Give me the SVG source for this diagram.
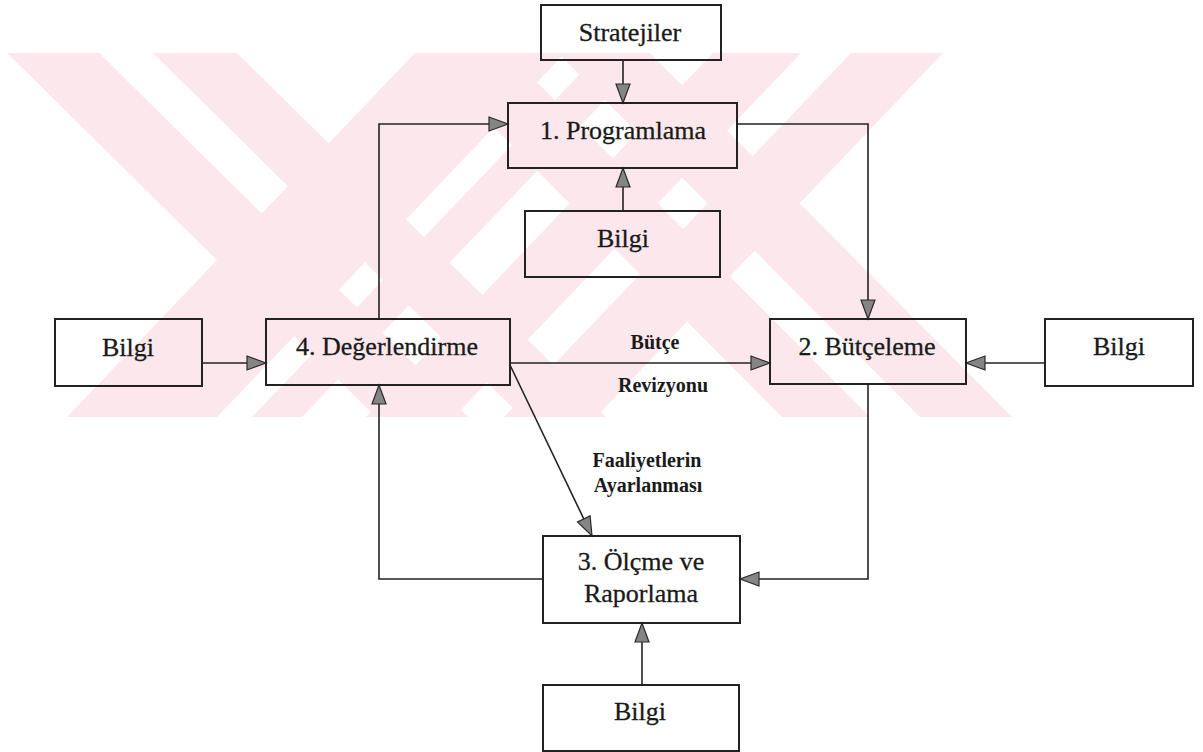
<svg xmlns="http://www.w3.org/2000/svg" width="1203" height="752" viewBox="0 0 1203 752">
<style>
.box{fill:none;stroke:#222;stroke-width:2}
.ln{fill:none;stroke:#222;stroke-width:1.6}
.t{font-family:"Liberation Serif","Times New Roman",serif;font-size:26px;fill:#1a1a1a;stroke:#1a1a1a;stroke-width:0.3;text-anchor:middle}
.s{font-family:"Liberation Serif","Times New Roman",serif;font-size:20px;font-weight:bold;fill:#1a1a1a;text-anchor:middle}
.wm{fill:#fce8ec}
</style>
<defs>
<clipPath id="wclip"><rect x="0" y="53" width="1203" height="364"/></clipPath>
<marker id="ah" markerUnits="userSpaceOnUse" markerWidth="22" markerHeight="18" refX="20" refY="8" orient="auto">
<path d="M1,1 L20,8 L1,15 Z" fill="#858585" stroke="#2a2a2a" stroke-width="1.2"/>
</marker>
</defs>
<rect width="1203" height="752" fill="#fff"/>
<g id="watermark" clip-path="url(#wclip)">
<polygon class="wm" points="7,53 99,53 468,417 376,417"/>
<polygon class="wm" points="153,53 237,53 606,417 522,417"/>
<polygon class="wm" points="415,53 565,53 217,417 67,417"/>
<polygon class="wm" points="600,53 650,53 302,417 252,417"/>
<polygon class="wm" points="558,53 650,53 1012,417 920,417"/>
<polygon class="wm" points="420,53 508,53 870,417 782,417"/>
<polygon class="wm" points="851,53 943,53 596,417 504,417"/>
<polygon class="wm" points="713,53 801,53 454,417 366,417"/>
</g>
<g id="connectors">
<line class="ln" x1="623" y1="60" x2="623" y2="103" marker-end="url(#ah)"/>
<line class="ln" x1="623" y1="211" x2="623" y2="168" marker-end="url(#ah)"/>
<polyline class="ln" points="737,124 868,124 868,319" marker-end="url(#ah)"/>
<polyline class="ln" points="379,319 379,124 508,124" marker-end="url(#ah)"/>
<line class="ln" x1="202" y1="363" x2="266" y2="363" marker-end="url(#ah)"/>
<line class="ln" x1="1045" y1="363" x2="966" y2="363" marker-end="url(#ah)"/>
<line class="ln" x1="510" y1="363" x2="770" y2="363" marker-end="url(#ah)"/>
<line class="ln" x1="510" y1="365" x2="592" y2="536" marker-end="url(#ah)"/>
<polyline class="ln" points="868,384 868,579 740,579" marker-end="url(#ah)"/>
<polyline class="ln" points="543,579 379,579 379,385" marker-end="url(#ah)"/>
<line class="ln" x1="642" y1="685" x2="642" y2="623" marker-end="url(#ah)"/>
<text class="s" x="655" y="349">Bütçe</text>
<text class="s" x="663" y="392">Revizyonu</text>
<text class="s" x="647" y="467">Faaliyetlerin</text>
<text class="s" x="648" y="492">Ayarlanması</text>
</g>
<g id="stratejiler"><rect class="box" x="541" y="5" width="180" height="55"/><text class="t" x="630" y="41">Stratejiler</text></g>
<g id="programlama"><rect class="box" x="508" y="103" width="229" height="65"/><text class="t" x="623" y="139">1. Programlama</text></g>
<g id="bilgi-top"><rect class="box" x="525" y="211" width="195" height="66"/><text class="t" x="623" y="247">Bilgi</text></g>
<g id="degerlendirme"><rect class="box" x="266" y="319" width="244" height="66"/><text class="t" x="387" y="355">4. Değerlendirme</text></g>
<g id="bilgi-left"><rect class="box" x="55" y="319" width="147" height="67"/><text class="t" x="128" y="356">Bilgi</text></g>
<g id="butceleme"><rect class="box" x="770" y="319" width="196" height="65"/><text class="t" x="867" y="355">2. Bütçeleme</text></g>
<g id="bilgi-right"><rect class="box" x="1045" y="319" width="148" height="67"/><text class="t" x="1119" y="355">Bilgi</text></g>
<g id="olcme"><rect class="box" x="543" y="536" width="197" height="87"/><text class="t" x="641" y="570">3. Ölçme ve</text><text class="t" x="641" y="602">Raporlama</text></g>
<g id="bilgi-bottom"><rect class="box" x="543" y="685" width="196" height="66"/><text class="t" x="640" y="720">Bilgi</text></g>
</svg>
